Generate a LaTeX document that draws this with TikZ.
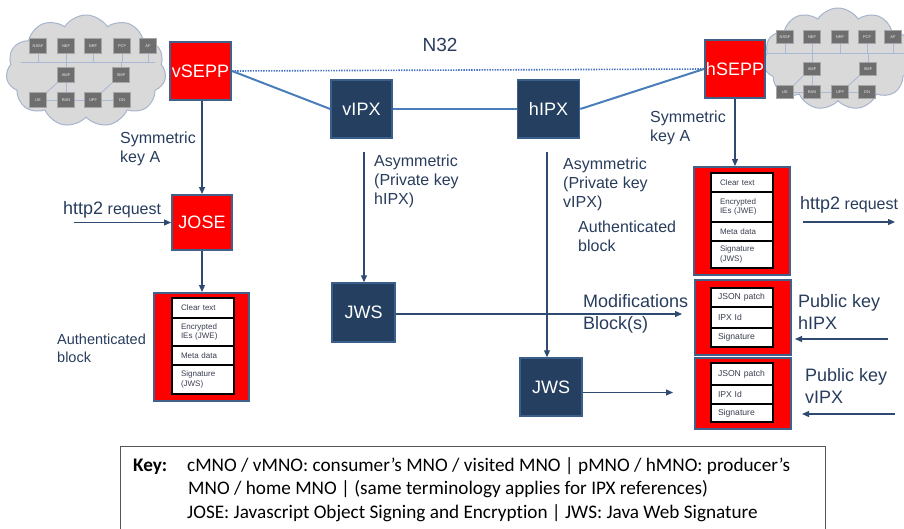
\documentclass[tikz,border=0pt]{standalone}
\usepackage{fontspec}
\setmainfont{Liberation Sans}
\newfontfamily\keyfont[Ligatures=NoCommon]{Carlito}
\usetikzlibrary{arrows.meta,shapes.symbols}
\definecolor{redf}{HTML}{FF0000}
\definecolor{bord}{HTML}{41608A}
\definecolor{navy}{HTML}{243F60}
\definecolor{navyb}{HTML}{3A5F8A}
\definecolor{txt}{HTML}{283C5C}
\definecolor{arrc}{HTML}{2E4A70}
\definecolor{connc}{HTML}{4A7EBB}
\definecolor{dotc}{HTML}{4472C4}
\definecolor{cloudf}{HTML}{D9D9D9}
\definecolor{cloudb}{HTML}{A6B4CD}
\definecolor{cboxf}{HTML}{6E6E6E}
\definecolor{clinec}{HTML}{A9B8D5}
\definecolor{rowtxt}{HTML}{3A3F50}
\definecolor{keyb}{HTML}{555555}
\begin{document}
\begin{tikzpicture}[x=1pt,y=-1pt,
  redbox/.style={draw=bord, line width=2pt, fill=redf, text=white, inner sep=0pt,
    font=\fontsize{18}{20}\selectfont},
  navybox/.style={draw=navyb, line width=1.5pt, fill=navy, text=white, inner sep=0pt,
    font=\fontsize{18}{20}\selectfont},
  row/.style={draw=black, line width=1.2pt, fill=white, outer sep=0pt,
    minimum width=62pt, text width=44pt, inner xsep=9pt, inner ysep=0pt, align=left,
    anchor=north, text=rowtxt, font=\fontsize{8}{9.5}\selectfont},
  rowb/.style={row, text width=48pt, inner xsep=7pt, font=\fontsize{8.6}{10}\selectfont},
  lbl/.style={text=txt, inner sep=0pt, align=left, anchor=west,
    font=\fontsize{16}{19}\selectfont},
  lbls/.style={lbl, font=\fontsize{14.5}{18}\selectfont},
  lblbig/.style={text=txt, inner sep=0pt, align=left, anchor=west,
    font=\fontsize{18}{21.5}\selectfont},
  arr/.style={draw=arrc, line width=1.2pt, -{Triangle[width=6pt,length=7pt]}},
  conn/.style={draw=connc, line width=2pt},
  dotline/.style={draw=dotc, line width=1.6pt, dash pattern=on 1.4pt off 1.2pt},
  cloudsh/.style={cloud, cloud puffs=11, cloud puff arc=115, draw=cloudb, line width=1pt, fill=cloudf},
  cbox/.style={fill=cboxf, draw=gray!70, line width=0.4pt, inner sep=0pt,
    minimum width=17pt, minimum height=15pt, text=white!85!gray, font=\fontsize{4}{4}\selectfont},
  cboxs/.style={cbox, minimum height=13pt},
  cline/.style={draw=clinec, line width=0.9pt},
  keytxt/.style={inner sep=0pt, anchor=base west, text=black, font=\keyfont\fontsize{19.2}{22}\selectfont}
]
\useasboundingbox (0,0) rectangle (904,528);

% ---------- left cloud ----------
\node[cloudsh, minimum width=160pt, minimum height=112pt] (lcloud) at (86,71) {};
\coordinate (lbusA) at (21,62);
\coordinate (lbusB) at (155,62);
\draw[cline] (lbusA) -- (lbusB);
\node[cbox] (lnssf) at (38,46) {NSSF};
\node[cbox] (lnef) at (66,46) {NEF};
\node[cbox] (lnrf) at (93,46) {NRF};
\node[cbox] (lpcf) at (122,46) {PCF};
\node[cbox] (laf) at (148,46) {AF};
\node[cbox] (lamf) at (66,75) {AMF};
\node[cbox] (lsmf) at (121,75) {SMF};
\node[cbox] (lue) at (38,100) {UE};
\node[cbox] (lran) at (66,100) {RAN};
\node[cbox] (lupf) at (93,100) {UPF};
\node[cbox] (ldn) at (122,100) {DN};
\foreach \n in {lnssf,lnef,lnrf,lpcf,laf}{\draw[cline] (\n.south) -- (\n.south |- lbusA);}
\draw[cline] (lamf.north) -- (lamf.north |- lbusA);
\draw[cline] (lsmf.north) -- (lsmf.north |- lbusA);
\draw[cline] (lamf.south) -- (lran.north);
\draw[cline] (lue.north east) -- (lamf.south west);
\draw[cline] (lue.east) -- (lran.west);
\draw[cline] (lran.east) -- (lupf.west);
\draw[cline] (lupf.east) -- (ldn.west);
\draw[cline] (lupf.north east) -- (lsmf.south west);

% ---------- right cloud ----------
\node[cloudsh, minimum width=150pt, minimum height=102pt] (rcloud) at (838,59) {};
\coordinate (rbusA) at (765,53);
\coordinate (rbusB) at (904,53);
\draw[cline] (rbusA) -- (rbusB);
\node[cboxs] (rnssf) at (785,37) {NSSF};
\node[cboxs] (rnef) at (812,37) {NEF};
\node[cboxs] (rnrf) at (840,37) {NRF};
\node[cboxs] (rpcf) at (867,37) {PCF};
\node[cboxs] (raf) at (893,37) {AF};
\node[cboxs] (ramf) at (812,69) {AMF};
\node[cboxs] (rsmf) at (868,69) {SMF};
\node[cboxs] (rue) at (785,92) {UE};
\node[cboxs] (rran) at (812,92) {RAN};
\node[cboxs] (rupf) at (840,92) {UPF};
\node[cboxs] (rdn) at (867,92) {DN};
\foreach \n in {rnssf,rnef,rnrf,rpcf,raf}{\draw[cline] (\n.south) -- (\n.south |- rbusA);}
\draw[cline] (ramf.north) -- (ramf.north |- rbusA);
\draw[cline] (rsmf.north) -- (rsmf.north |- rbusA);
\draw[cline] (ramf.south) -- (rran.north);
\draw[cline] (rue.north east) -- (ramf.south west);
\draw[cline] (rue.east) -- (rran.west);
\draw[cline] (rran.east) -- (rupf.west);
\draw[cline] (rupf.east) -- (rdn.west);
\draw[cline] (rupf.north east) -- (rsmf.south west);

% ---------- main boxes ----------
\node[redbox, minimum width=61pt, minimum height=58pt] (vsepp) at (200.5,71) {vSEPP};
\node[redbox, minimum width=60pt, minimum height=58pt] (hsepp) at (735,69) {hSEPP};
\node[navybox, minimum width=61pt, minimum height=58pt] (vipx) at (361.5,109) {vIPX};
\node[navybox, minimum width=62pt, minimum height=58pt] (hipx) at (548.5,109) {hIPX};
\node[redbox, minimum width=60pt, minimum height=55pt] (jose) at (202,222.5) {JOSE};
\node[navybox, minimum width=63pt, minimum height=59pt] (jws1) at (363.5,312.5) {JWS};
\node[navybox, minimum width=62pt, minimum height=58pt] (jws2) at (551,387) {JWS};

% connectors between SEPP / IPX
\draw[dotline] (vsepp.east) -- (hsepp.west);
\draw[conn] (vsepp.east) -- (vipx.west);
\draw[conn] (vipx.east) -- (hipx.west);
\draw[conn] (hipx.east) -- (hsepp.west);
\node[text=txt, inner sep=0pt, font=\fontsize{19}{21}\selectfont] (n32) at (440,45) {N32};

% ---------- left authenticated block ----------
\node[redbox, minimum width=95pt, minimum height=108pt] (lauth) at (201.5,347) {};
\node[row, minimum height=20pt] (la1) at (203,298) {Clear text};
\node[row, minimum height=28pt] (la2) at (la1.south) {Encrypted\\IEs (JWE)};
\node[row, minimum height=19pt] (la3) at (la2.south) {Meta data};
\node[row, minimum height=29pt] (la4) at (la3.south) {Signature\\(JWS)};

% ---------- right authenticated block ----------
\node[redbox, minimum width=96pt, minimum height=108pt] (rauth) at (742,221) {};
\node[row, minimum height=19pt] (ra1) at (742,173) {Clear text};
\node[row, minimum height=30pt] (ra2) at (ra1.south) {Encrypted\\IEs (JWE)};
\node[row, minimum height=19pt] (ra3) at (ra2.south) {Meta data};
\node[row, minimum height=27pt] (ra4) at (ra3.south) {Signature\\(JWS)};

% ---------- modification blocks ----------
\node[redbox, minimum width=96pt, minimum height=75pt] (mod1) at (743,317.5) {};
\node[rowb, minimum height=19pt] (m1a) at (742,288) {JSON patch};
\node[rowb, minimum height=21pt] (m1b) at (m1a.south) {IPX Id};
\node[rowb, minimum height=19pt] (m1c) at (m1b.south) {Signature};

\node[redbox, minimum width=96pt, minimum height=71pt] (mod2) at (743,393.5) {};
\node[rowb, minimum height=22pt] (m2a) at (742,363) {JSON patch};
\node[rowb, minimum height=19pt] (m2b) at (m2a.south) {IPX Id};
\node[rowb, minimum height=18pt] (m2c) at (m2b.south) {Signature};

% ---------- labels ----------
\node[lbl] (symL) at (120,149) {Symmetric\\key A};
\node[lbl] (httpL) at (63,210) {{\fontsize{18}{20}\selectfont http2} request};
\node[lbls] (authL) at (57,348) {Authenticated\\block};
\node[lbl] (asymH) at (374,181) {Asymmetric\\(Private key\\hIPX)};
\node[lbl] (asymV) at (563,184) {Asymmetric\\(Private key\\vIPX)};
\node[lbl] (authR) at (578,236) {Authenticated\\block};
\node[lbl] (symR) at (650,128) {Symmetric\\key A};
\node[lbl] (httpR) at (800,205) {{\fontsize{18}{20}\selectfont http2} request};
\node[lblbig] (modl) at (583,314) {Modifications\\Block(s)};
\node[lblbig] (pubh) at (798,312) {Public key\\hIPX};
\node[lblbig] (pubv) at (805,386) {Public key\\vIPX};

% ---------- arrows ----------
\coordinate (hL) at (74,222.5);
\draw[arr] (hL) -- (jose.west);
\draw[arr] (vsepp.south -| jose.north) -- (jose.north);
\draw[arr] (jose.south) -- (jose.south |- lauth.north);
\coordinate (aH) at (364,152);
\draw[arr] (aH) -- (aH |- jws1.north);
\coordinate (aV) at (547,152);
\draw[arr] (aV) -- (aV |- jws2.north);
\coordinate (m1) at (682,314);
\draw[arr] (jws1.east |- m1) -- (m1);
\coordinate (m2) at (673,392.5);
\draw[arr] (jws2.east |- m2) -- (m2);
\draw[arr] (hsepp.south) -- (hsepp.south |- rauth.north);
\coordinate (hr1) at (803,222);
\coordinate (hr2) at (895,222);
\draw[arr] (hr1) -- (hr2);
\coordinate (ph1) at (888,339);
\coordinate (ph2) at (795,339);
\draw[arr] (ph1) -- (ph2);
\coordinate (pv1) at (895,414);
\coordinate (pv2) at (802,414);
\draw[arr] (pv1) -- (pv2);

% ---------- key ----------
\node[draw=keyb, line width=1.2pt, anchor=north west, minimum width=705pt, minimum height=100pt, inner sep=0pt] (keybox) at (120,446) {};
\node[keytxt] (k0) at (133,471) {\bfseries Key:};
\node[keytxt] (k1) at (187,471) {cMNO / vMNO: consumer’s MNO / visited MNO | pMNO / hMNO: producer’s};
\node[keytxt] (k2) at (188,494.5) {MNO / home MNO | (same terminology applies for IPX references)};
\node[keytxt] (k3) at (187,518) {JOSE: Javascript Object Signing and Encryption | JWS: Java Web Signature};
\end{tikzpicture}
\end{document}
